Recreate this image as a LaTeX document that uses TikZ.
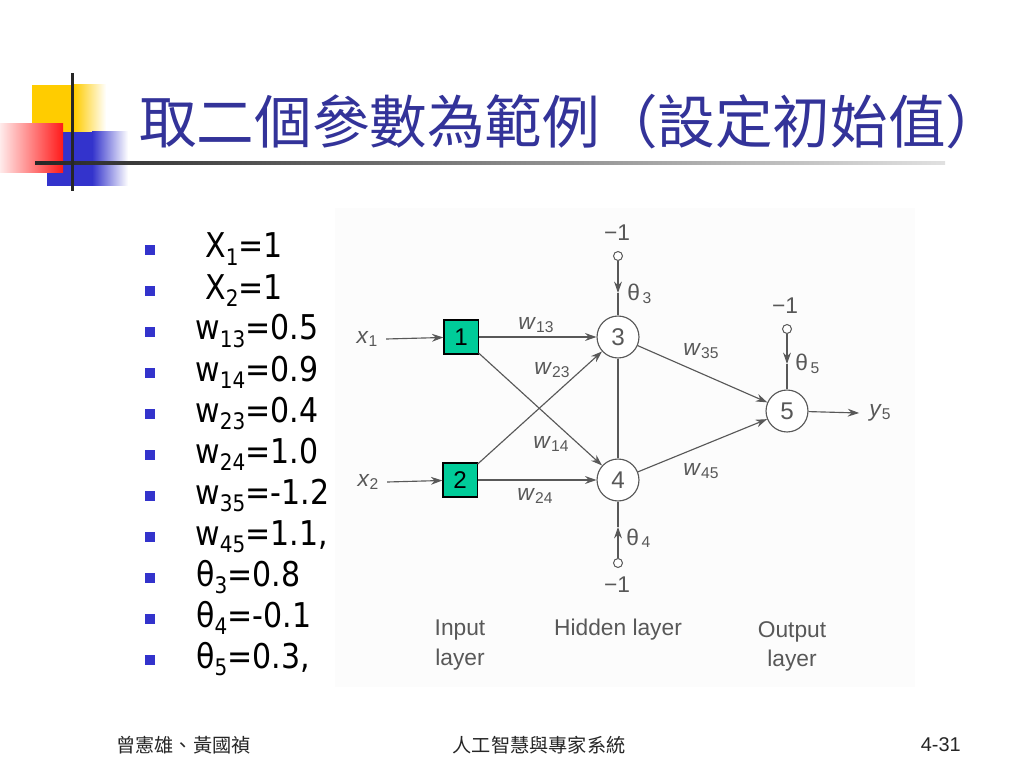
\documentclass[tikz,border=0pt]{standalone}
\usepackage{fontspec}
\setmainfont{Liberation Sans}
\newfontfamily\cjk{Noto Sans CJK TC}
\newfontfamily\tah[FakeStretch=0.88]{DejaVu Sans}
\usetikzlibrary{arrows.meta}
\definecolor{titleblue}{RGB}{51,51,153}
\definecolor{bulletblue}{RGB}{51,51,204}
\definecolor{tealbox}{RGB}{0,204,153}
\definecolor{dgray}{RGB}{88,88,88}
\definecolor{yellowc}{RGB}{255,204,0}
\newcommand\wsub[2]{\textit{#1}\raisebox{-0.2ex}{\fontsize{11}{11}\selectfont #2}}
\newcommand\gsub[2]{#1\raisebox{-0.2ex}{\fontsize{11}{11}\selectfont\,#2}}
\newcommand\bsub[1]{\raisebox{-0.4ex}{\fontsize{16}{16}\selectfont #1}}
\tikzset{
  px/.style={x=0.703125pt,y=-0.703125pt},
  inbox/.style={draw=black, fill=tealbox, minimum size=24pt, inner sep=0pt, line width=0.8pt, font=\fontsize{17}{17}\selectfont},
  neuron/.style={circle, draw=dgray, fill=white, minimum size=29.5pt, inner sep=0pt, line width=0.8pt, text=dgray, font=\fontsize{17}{17}\selectfont},
  biasdot/.style={circle, draw=dgray, fill=white, minimum size=6.3pt, inner sep=0pt, line width=0.7pt},
  lbl/.style={text=dgray, font=\fontsize{16}{20.5}\selectfont, inner sep=0pt},
  conn/.style={draw=dgray, line width=0.8pt},
  arr/.style={conn, -{Stealth[length=8pt,width=5.5pt]}},
  bulletsq/.style={fill=bulletblue, minimum size=7pt, inner sep=0pt},
  btext/.style={anchor=base west, inner sep=0pt, font=\tah\fontsize{24}{24}\selectfont},
  footer/.style={inner sep=0pt, text=black!85, font=\cjk\fontsize{13.5}{14}\selectfont},
}
\begin{document}
\begin{tikzpicture}[px]
\useasboundingbox (0,0) rectangle (1024,768);
\fill[white] (0,0) rectangle (1024,768);
% decoration
\fill[yellowc] (32,85) rectangle (74,132);
\shade[left color=yellowc, right color=white] (74,85) rectangle (106,132);
\fill[bulletblue] (47,132) rectangle (92,186);
\shade[left color=bulletblue, right color=white] (92,132) rectangle (128,186);
\shade[left color=red!8, right color=red!90] (0,124) rectangle (63,173);
\shade[left color=black!85, right color=black!12] (35,161.5) rectangle (945,164.5);
\fill[black!85] (70.5,73) rectangle (73.5,191);
% title
\node[anchor=west, text=titleblue, font=\cjk\fontsize{40.5}{40.5}\selectfont, inner sep=0pt] (title) at (139,122) {取二個參數為範例（設定初始值）};
% bullets
\node[bulletsq] (q1) at (150,250) {};  \node[btext] (t1) at (205,258) {X\bsub{1}=1};
\node[bulletsq] (q2) at (150,291) {};  \node[btext] (t2) at (205,299) {X\bsub{2}=1};
\node[bulletsq] (q3) at (150,332) {};  \node[btext] (t3) at (195,340) {w\bsub{13}=0.5};
\node[bulletsq] (q4) at (150,373) {};  \node[btext] (t4) at (195,381) {w\bsub{14}=0.9};
\node[bulletsq] (q5) at (150,414) {};  \node[btext] (t5) at (195,422) {w\bsub{23}=0.4};
\node[bulletsq] (q6) at (150,455) {};  \node[btext] (t6) at (195,463) {w\bsub{24}=1.0};
\node[bulletsq] (q7) at (150,496) {};  \node[btext] (t7) at (195,504) {w\bsub{35}=-1.2};
\node[bulletsq] (q8) at (150,537) {};  \node[btext] (t8) at (195,545) {w\bsub{45}=1.1,};
\node[bulletsq] (q9) at (150,578) {};  \node[btext] (t9) at (196,586) {θ\bsub{3}=0.8};
\node[bulletsq] (q10) at (150,619) {}; \node[btext] (t10) at (196,627) {θ\bsub{4}=-0.1};
\node[bulletsq] (q11) at (150,660) {}; \node[btext] (t11) at (196,668) {θ\bsub{5}=0.3,};
% diagram background
\fill[black!1] (335,208) rectangle (915,687);
% nodes
\node[inbox] (in1) at (461,337) {1};
\node[inbox] (in2) at (460,480) {2};
\node[neuron] (h3) at (618,337) {3};
\node[neuron] (h4) at (618,480) {4};
\node[neuron] (o5) at (787,411) {5};
\node[biasdot] (s3) at (618,256) {};
\node[biasdot] (s4) at (618,563) {};
\node[biasdot] (s5) at (787,329) {};
\coordinate (a3) at (618,293);
\coordinate (a4) at (618,527);
\coordinate (a5) at (787,364);
\node[lbl] (m3) at (617,233) {−1};
\node[lbl] (m4) at (617,585) {−1};
\node[lbl] (m5) at (785,306) {−1};
\node[lbl, anchor=west] (th3) at (627,294) {\gsub{θ}{3}};
\node[lbl, anchor=west] (th4) at (626,538) {\gsub{θ}{4}};
\node[lbl, anchor=west] (th5) at (795,364) {\gsub{θ}{5}};
\node[lbl] (x1) at (367,339) {\wsub{x}{1}};
\node[lbl] (x2) at (368,482) {\wsub{x}{2}};
\node[lbl] (y5) at (880,413) {\wsub{y}{5}};
\node[lbl] (w13) at (536,325) {\wsub{w}{13}};
\node[lbl] (w23) at (552,370) {\wsub{w}{23}};
\node[lbl] (w14) at (551,444) {\wsub{w}{14}};
\node[lbl] (w24) at (535,496) {\wsub{w}{24}};
\node[lbl] (w35) at (701,351) {\wsub{w}{35}};
\node[lbl] (w45) at (701,471) {\wsub{w}{45}};
\node[lbl, align=center] (L1) at (460,645) {Input\\layer};
\node[lbl] (L2) at (618,630) {Hidden layer};
\node[lbl, align=center] (L3) at (792,646) {Output\\layer};
% connectors
\draw[arr] ([xshift=6pt]x1.east) -- (in1);
\draw[arr] ([xshift=6pt]x2.east) -- (in2);
\draw[arr] (in1) -- (h3);
\draw[arr] (in1) -- (h4);
\draw[arr] (in2) -- (h3);
\draw[arr] (in2) -- (h4);
\draw[conn] (h3) -- (h4);
\draw[arr] (h3) -- (o5);
\draw[arr] (h4) -- (o5);
\draw[arr] (o5) -- ([xshift=-7pt]y5.west);
\draw[arr] (s3) -- (a3);
\draw[conn] (a3) -- (h3);
\draw[arr] (s4) -- (a4);
\draw[conn] (a4) -- (h4);
\draw[arr] (s5) -- (a5);
\draw[conn] (a5) -- (o5);
% footer
\node[footer, anchor=west] (f1) at (116,745) {曾憲雄、黃國禎};
\node[footer] (f2) at (539,745) {人工智慧與專家系統};
\node[footer, anchor=east, font=\fontsize{14}{14}\selectfont] (f3) at (961,745) {4-31};
\end{tikzpicture}
\end{document}
